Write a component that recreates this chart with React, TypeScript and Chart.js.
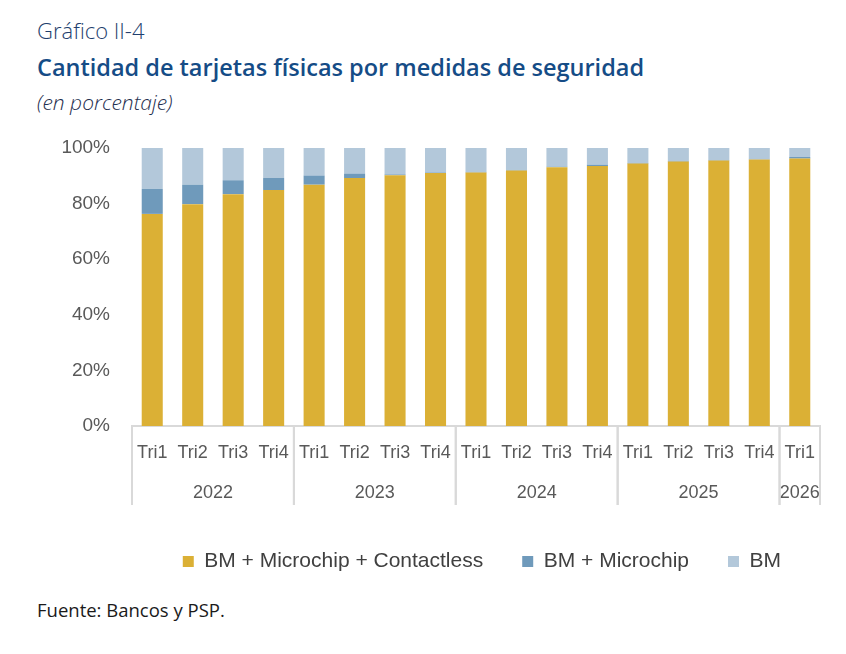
import { useEffect, useRef } from "react"
import { Chart, registerables } from "chart.js"

Chart.register(...registerables)

// datos (porcentaje del total de tarjetas físicas)
const years = ["2022", "2023", "2024", "2025", "2026"]
const quartersPerYear = [4, 4, 4, 4, 1]
const quarterNames = ["Tri1", "Tri2", "Tri3", "Tri4"]

const contactless = [76.3, 79.8, 83.4, 84.9, 86.8, 89.2, 90.2, 91.0, 91.2, 91.9, 93.1, 93.5, 94.4, 95.1, 95.5, 95.9, 96.2]
const microchip = [9.0, 7.0, 5.0, 4.3, 3.3, 1.6, 0.3, 0.2, 0.2, 0.2, 0.2, 0.5, 0.2, 0.2, 0.2, 0.2, 0.6]
const bandaMagnetica = [14.7, 13.2, 11.6, 10.8, 9.9, 9.2, 9.5, 8.8, 8.6, 7.9, 6.7, 6.0, 5.4, 4.7, 4.3, 3.9, 3.2]

const seriesNames = ["BM + Microchip + Contactless", "BM + Microchip", "BM"]
const yTicks = [0, 20, 40, 60, 80, 100]

const labels: string[] = []
quartersPerYear.forEach((n) => {
  for (let q = 0; q < n; q++) labels.push(quarterNames[q])
})

const FONT = "'Liberation Sans', Arial, sans-serif"
const HEAD = "'Open Sans', sans-serif"
const TEXT = "#595959"

// dibuja separadores y años bajo el eje de categorías
const yearGroups = {
  id: "yearGroups",
  afterDraw(chart: Chart) {
    const x = chart.scales.x
    const ctx = chart.ctx
    ctx.save()
    ctx.strokeStyle = "#D9D9D9"
    ctx.lineWidth = 2
    ctx.fillStyle = TEXT
    ctx.font = `18px ${FONT}`
    ctx.textAlign = "center"
    ctx.textBaseline = "middle"
    let start = 0
    const edge = (i: number) => {
      if (i <= 0) return x.left
      if (i >= labels.length) return x.right
      return (x.getPixelForValue(i - 1) + x.getPixelForValue(i)) / 2
    }
    years.forEach((year, g) => {
      const end = start + quartersPerYear[g]
      const mid = (x.getPixelForValue(start) + x.getPixelForValue(end - 1)) / 2
      ctx.fillText(year, mid, x.top + 67)
      ;[start, end].forEach((i) => {
        const px = edge(i)
        ctx.beginPath()
        ctx.moveTo(px, x.top)
        ctx.lineTo(px, x.top + 79)
        ctx.stroke()
      })
      start = end
    })
    ctx.restore()
  },
}

function StackedChart() {
  const chartRef = useRef<HTMLCanvasElement>(null)
  const chartInstance = useRef<Chart | null>(null)

  useEffect(() => {
    if (!chartRef.current) return
    if (chartInstance.current) chartInstance.current.destroy()
    const ctx = chartRef.current.getContext("2d")
    if (!ctx) return

    chartInstance.current = new Chart(ctx, {
      type: "bar",
      data: {
        labels,
        datasets: [
          { label: seriesNames[0], data: contactless, backgroundColor: "#DBB035" },
          { label: seriesNames[1], data: microchip, backgroundColor: "#6F9ABB" },
          { label: seriesNames[2], data: bandaMagnetica, backgroundColor: "#B3C8DA" },
        ].map((d) => ({ ...d, barPercentage: 0.52, categoryPercentage: 1, borderWidth: 0 })),
      },
      options: {
        animation: false,
        responsive: false,
        layout: { padding: { top: 18, right: 26, bottom: 8, left: 0 } },
        scales: {
          x: {
            stacked: true,
            grid: { display: false, drawTicks: false },
            border: { display: true, color: "#D9D9D9", width: 2 },
            ticks: { color: TEXT, font: { family: FONT, size: 18 }, padding: 16, maxRotation: 0, autoSkip: false },
            afterFit: (scale) => {
              scale.height = 86
            },
          },
          y: {
            stacked: true,
            min: 0,
            max: 100,
            grid: { display: false, drawTicks: false },
            border: { display: false },
            afterBuildTicks: (scale) => {
              scale.ticks = yTicks.map((v) => ({ value: v }))
            },
            ticks: {
              color: TEXT,
              font: { family: FONT, size: 19 },
              padding: 22,
              callback: (v) => `${v}%`,
            },
            afterFit: (scale) => {
              scale.width = 132
              scale.paddingTop = 11
              scale.paddingBottom = 11
            },
          },
        },
        plugins: {
          legend: {
            position: "bottom",
            align: "end",
            labels: {
              boxWidth: 11,
              boxHeight: 11,
              padding: 39,
              color: "#404040",
              font: { family: FONT, size: 21 },
            },
          },
          tooltip: { enabled: false },
        },
      },
      plugins: [yearGroups],
    })

    return () => {
      if (chartInstance.current) {
        chartInstance.current.destroy()
        chartInstance.current = null
      }
    }
  }, [])

  return <canvas ref={chartRef} width={846} height={460} style={{ position: "absolute", left: 0, top: 130 }} />
}

export default function App() {
  return (
    <div style={{ position: "fixed", left: 0, top: 0, width: 846, height: 654, background: "#fff", overflow: "hidden" }}>
      <div style={{ position: "absolute", left: 37, top: 16, fontFamily: HEAD, fontWeight: 300, fontSize: 22, lineHeight: "28px", color: "#1F3F6E" }}>
        Gráfico II-4
      </div>
      <div style={{ position: "absolute", left: 37, top: 52, fontFamily: HEAD, fontWeight: 600, fontSize: 23.5, lineHeight: "30px", color: "#154C86" }}>
        Cantidad de tarjetas físicas por medidas de seguridad
      </div>
      <div style={{ position: "absolute", left: 37, top: 88, fontFamily: HEAD, fontStyle: "italic", fontWeight: 300, fontSize: 21, lineHeight: "28px", color: "#1F2F4F" }}>
        (en porcentaje)
      </div>
      <StackedChart />
      <div style={{ position: "absolute", left: 37, top: 597, fontFamily: HEAD, fontSize: 18.5, lineHeight: "26px", color: "#1A1A1A" }}>
        Fuente: Bancos y PSP.
      </div>
    </div>
  )
}
